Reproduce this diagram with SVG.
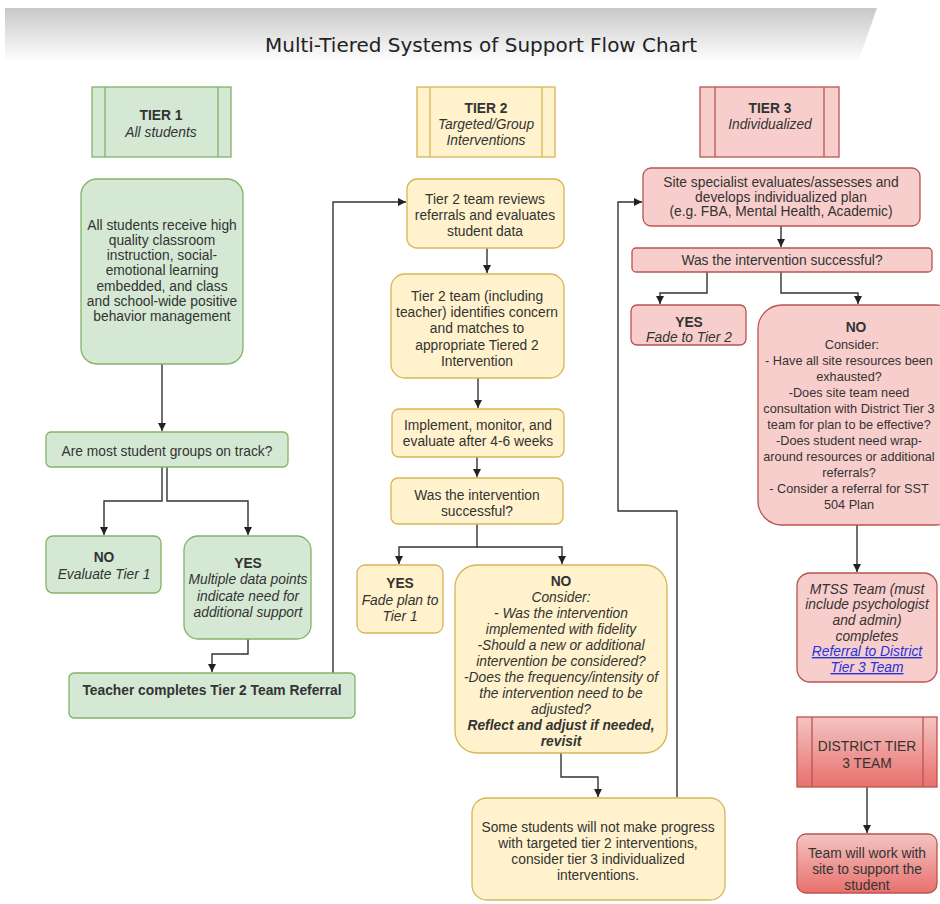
<svg xmlns="http://www.w3.org/2000/svg" width="940" height="904" viewBox="0 0 940 904">
<defs>
<linearGradient id="band" x1="0" y1="0" x2="0" y2="1">
<stop offset="0" stop-color="#c8c8c8"/>
<stop offset="1" stop-color="#ffffff"/>
</linearGradient>
<linearGradient id="redgrad" x1="0" y1="0" x2="0" y2="1">
<stop offset="0" stop-color="#f4c4c2"/>
<stop offset="1" stop-color="#e8706c"/>
</linearGradient>
<marker id="arr" markerWidth="8" markerHeight="8" refX="8" refY="4" orient="auto" markerUnits="userSpaceOnUse">
<path d="M0,0 L8,4 L0,8 z" fill="#222"/>
</marker>
<style>
text{font-family:"Liberation Sans",Arial,sans-serif;font-size:13.8px;fill:#333;text-anchor:middle}
.b{font-weight:bold}
.i{font-style:italic}
.s{font-size:12.7px}
.g{fill:#d5e8d4;stroke:#82b366;stroke-width:1.3}
.y{fill:#fff2cc;stroke:#d6b656;stroke-width:1.3}
.r{fill:#f8cecc;stroke:#b85450;stroke-width:1.3}
.rg{fill:url(#redgrad);stroke:#b85450;stroke-width:1.3}
.gl{stroke:#82b366;stroke-width:1.3}
.yl{stroke:#d6b656;stroke-width:1.3}
.rl{stroke:#b85450;stroke-width:1.3}
.c{fill:none;stroke:#333;stroke-width:1.4;marker-end:url(#arr)}
.lnk{fill:#2233dd;text-decoration:underline;font-style:italic}
</style>
</defs>
<rect width="940" height="904" fill="#ffffff"/>
<polygon points="5,8 877,8 858,62 5,62" fill="url(#band)"/>
<text x="481" y="52" style="font-family:'DejaVu Sans',sans-serif;font-size:19px;fill:#222" textLength="432" lengthAdjust="spacingAndGlyphs">Multi-Tiered Systems of Support Flow Chart</text>

<g id="connectors">
<path class="c" d="M162,364 L162,431"/>
<path class="c" d="M162,467 L162,501 L104,501 L104,535"/>
<path class="c" d="M167,467 L167,501 L248,501 L248,535"/>
<path class="c" d="M248,639 L248,654 L212,654 L212,672"/>
<path class="c" d="M333,673 L333,202 L406,202"/>
<path class="c" d="M487,248 L487,273"/>
<path class="c" d="M478,378 L478,408"/>
<path class="c" d="M477,457 L477,477"/>
<path class="c" d="M477,524 L477,547 L399,547 L399,564"/>
<path class="c" d="M477,547 L562,547 L562,564"/>
<path class="c" d="M561,753 L561,777 L598,777 L598,797"/>
<path class="c" d="M677,797 L677,511 L618,511 L618,202 L642,202"/>
<path class="c" d="M781,226 L781,247"/>
<path class="c" d="M707,272 L707,293 L660,293 L660,304"/>
<path class="c" d="M781,272 L781,293 L858,293 L858,304"/>
<path class="c" d="M857,525 L857,572"/>
<path class="c" d="M867,787 L867,833"/>
</g>

<g id="tier1-header">
<rect class="g" x="92" y="87" width="139" height="70"/>
<line class="gl" x1="105" y1="87" x2="105" y2="157"/>
<line class="gl" x1="218" y1="87" x2="218" y2="157"/>
<text class="b" x="161" y="120">TIER 1</text>
<text class="i" x="161" y="137">All students</text>
</g>

<g id="tier1-main">
<rect class="g" x="81" y="179" width="162" height="185" rx="16"/>
<text x="162" y="230">All students receive high</text>
<text x="162" y="245">quality classroom</text>
<text x="162" y="260">instruction, social-</text>
<text x="162" y="275">emotional learning</text>
<text x="162" y="291">embedded, and class</text>
<text x="162" y="306">and school-wide positive</text>
<text x="162" y="321">behavior management</text>
</g>

<g id="tier1-question">
<rect class="g" x="46" y="432" width="242" height="35" rx="5"/>
<text x="167" y="456">Are most student groups on track?</text>
</g>

<g id="tier1-no">
<rect class="g" x="46" y="536" width="115" height="57" rx="7"/>
<text class="b" x="104" y="562">NO</text>
<text class="i" x="104" y="579">Evaluate Tier 1</text>
</g>

<g id="tier1-yes">
<rect class="g" x="184" y="536" width="127" height="103" rx="14"/>
<text class="b" x="248" y="568">YES</text>
<text class="i" x="248" y="584">Multiple data points</text>
<text class="i" x="248" y="601">indicate need for</text>
<text class="i" x="248" y="617">additional support</text>
</g>

<g id="tier1-referral">
<rect class="g" x="69" y="673" width="286" height="45" rx="5"/>
<text class="b" x="212" y="695">Teacher completes Tier 2 Team Referral</text>
</g>

<g id="tier2-header">
<rect class="y" x="417" y="87" width="138" height="70"/>
<line class="yl" x1="430" y1="87" x2="430" y2="157"/>
<line class="yl" x1="542" y1="87" x2="542" y2="157"/>
<text class="b" x="486" y="113">TIER 2</text>
<text class="i" x="486" y="129">Targeted/Group</text>
<text class="i" x="486" y="145">Interventions</text>
</g>

<g id="tier2-review">
<rect class="y" x="407" y="179" width="157" height="69" rx="10"/>
<text x="485" y="204">Tier 2 team reviews</text>
<text x="485" y="220">referrals and evaluates</text>
<text x="485" y="236">student data</text>
</g>

<g id="tier2-identify">
<rect class="y" x="391" y="274" width="173" height="104" rx="14"/>
<text x="477" y="301">Tier 2 team (including</text>
<text x="477" y="317">teacher) identifies concern</text>
<text x="477" y="333">and matches to</text>
<text x="477" y="350">appropriate Tiered 2</text>
<text x="477" y="366">Intervention</text>
</g>

<g id="tier2-implement">
<rect class="y" x="392" y="409" width="172" height="48" rx="7"/>
<text x="478" y="430">Implement, monitor, and</text>
<text x="478" y="446">evaluate after 4-6 weeks</text>
</g>

<g id="tier2-question">
<rect class="y" x="391" y="478" width="172" height="46" rx="7"/>
<text x="477" y="500">Was the intervention</text>
<text x="477" y="516">successful?</text>
</g>

<g id="tier2-yes">
<rect class="y" x="357" y="565" width="86" height="68" rx="8"/>
<text class="b" x="400" y="588">YES</text>
<text class="i" x="400" y="605">Fade plan to</text>
<text class="i" x="400" y="621">Tier 1</text>
</g>

<g id="tier2-no">
<rect class="y" x="455" y="565" width="212" height="188" rx="22"/>
<text class="b" x="561" y="586">NO</text>
<text class="i" x="561" y="602">Consider:</text>
<text class="i" x="561" y="618">- Was the intervention</text>
<text class="i" x="561" y="634">implemented with fidelity</text>
<text class="i" x="561" y="650">-Should a new or additional</text>
<text class="i" x="561" y="666">intervention be considered?</text>
<text class="i" x="561" y="682">-Does the frequency/intensity of</text>
<text class="i" x="561" y="698">the intervention need to be</text>
<text class="i" x="561" y="714">adjusted?</text>
<text class="b i" x="561" y="730">Reflect and adjust if needed,</text>
<text class="b i" x="561" y="746">revisit</text>
</g>

<g id="tier2-progress">
<rect class="y" x="472" y="798" width="253" height="102" rx="15"/>
<text x="598" y="832">Some students will not make progress</text>
<text x="598" y="848">with targeted tier 2 interventions,</text>
<text x="598" y="864">consider tier 3 individualized</text>
<text x="598" y="880">interventions.</text>
</g>

<g id="tier3-header">
<rect class="r" x="700" y="87" width="139" height="70"/>
<line class="rl" x1="715" y1="87" x2="715" y2="157"/>
<line class="rl" x1="824" y1="87" x2="824" y2="157"/>
<text class="b" x="770" y="113">TIER 3</text>
<text class="i" x="770" y="129">Individualized</text>
</g>

<g id="tier3-site">
<rect class="r" x="643" y="168" width="277" height="58" rx="8"/>
<text x="781" y="187">Site specialist evaluates/assesses and</text>
<text x="781" y="202">develops individualized plan</text>
<text x="781" y="216">(e.g. FBA, Mental Health, Academic)</text>
</g>

<g id="tier3-question">
<rect class="r" x="632" y="248" width="300" height="24" rx="4"/>
<text x="782" y="265">Was the intervention successful?</text>
</g>

<g id="tier3-yes">
<rect class="r" x="631" y="305" width="115" height="40" rx="6"/>
<text class="b" x="689" y="327">YES</text>
<text class="i" x="689" y="342">Fade to Tier 2</text>
</g>

<g id="tier3-no">
<rect class="r" x="758" y="305" width="202" height="220" rx="24"/>
<text class="b" x="856" y="332">NO</text>
<text class="s" x="852" y="349">Consider:</text>
<text class="s" x="849" y="365">- Have all site resources been</text>
<text class="s" x="849" y="381">exhausted?</text>
<text class="s" x="849" y="397">-Does site team need</text>
<text class="s" x="849" y="413">consultation with District Tier 3</text>
<text class="s" x="849" y="429">team for plan to be effective?</text>
<text class="s" x="849" y="445">-Does student need wrap-</text>
<text class="s" x="849" y="461">around resources or additional</text>
<text class="s" x="849" y="477">referrals?</text>
<text class="s" x="849" y="493">- Consider a referral for SST</text>
<text class="s" x="849" y="509">504 Plan</text>
</g>

<g id="tier3-mtss">
<rect class="r" x="797" y="573" width="140" height="109" rx="13"/>
<text class="i" x="867" y="594">MTSS Team (must</text>
<text class="i" x="867" y="609">include psychologist</text>
<text class="i" x="867" y="625">and admin)</text>
<text class="i" x="867" y="641">completes</text>
<text class="lnk" x="867" y="656">Referral to District</text>
<text class="lnk" x="867" y="672">Tier 3 Team </text>
</g>

<g id="district-header">
<rect class="rg" x="797" y="717" width="140" height="70"/>
<line class="rl" x1="812" y1="717" x2="812" y2="787"/>
<line class="rl" x1="923" y1="717" x2="923" y2="787"/>
<text x="867" y="751">DISTRICT TIER</text>
<text x="867" y="768">3 TEAM</text>
</g>

<g id="district-team">
<rect class="rg" x="797" y="834" width="140" height="59" rx="9"/>
<text x="867" y="858">Team will work with</text>
<text x="867" y="874">site to support the</text>
<text x="867" y="890">student</text>
</g>
</svg>
